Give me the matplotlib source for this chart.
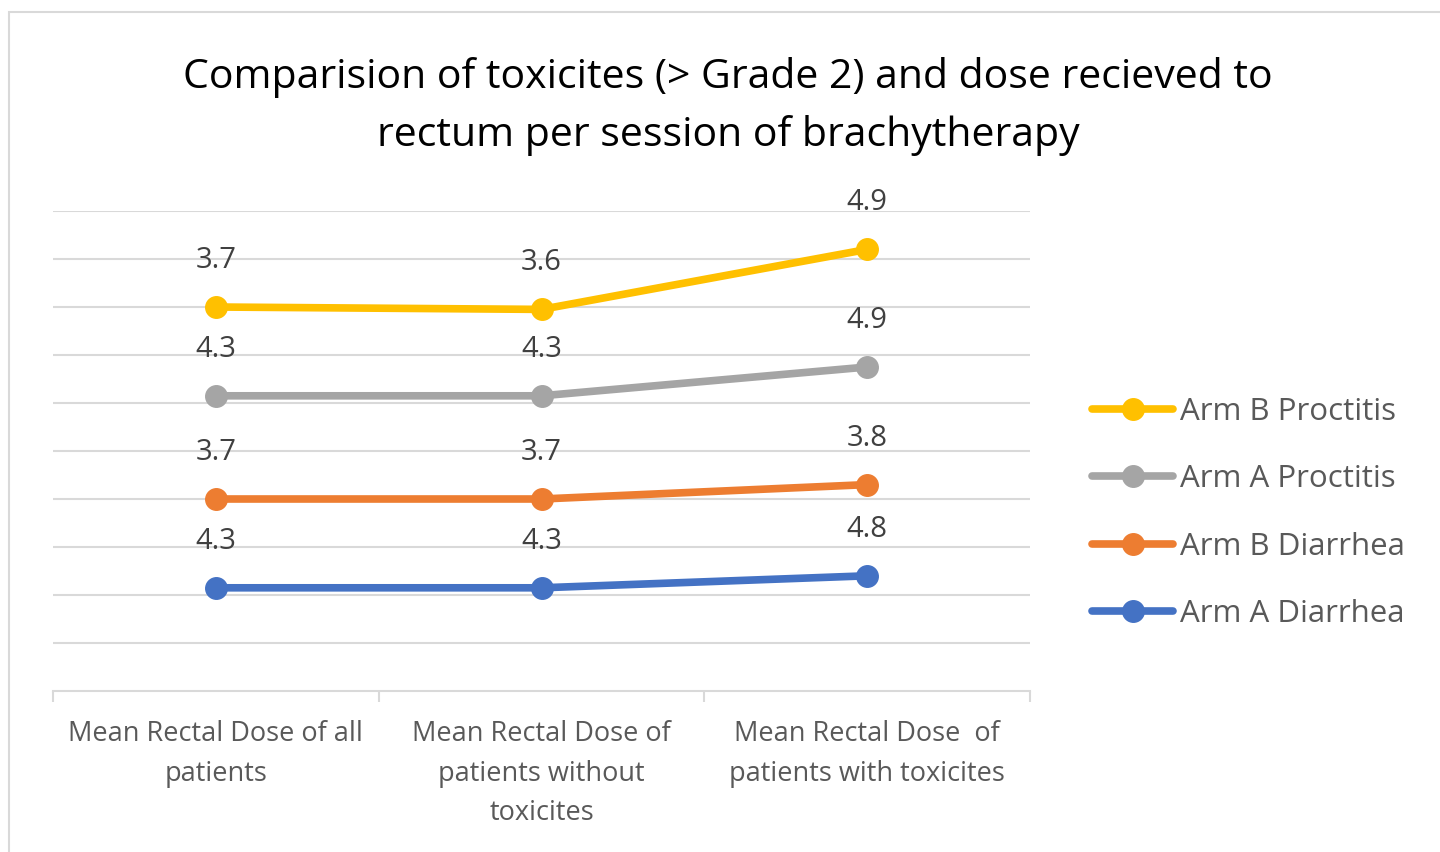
import numpy as np
import matplotlib
matplotlib.use('Agg')
import matplotlib.pyplot as plt
from matplotlib.patches import Rectangle

plt.rcParams['font.family'] = ['Open Sans', 'DejaVu Sans']

categories = ['Mean Rectal Dose of all\npatients',
              'Mean Rectal Dose of\npatients without\ntoxicites',
              'Mean Rectal Dose  of\npatients with toxicites']
# series in stacking order (bottom first)
series_names = ['Arm A Diarrhea', 'Arm B Diarrhea', 'Arm A Proctitis', 'Arm B Proctitis']
arm_a_diarrhea = [4.3, 4.3, 4.8]
arm_b_diarrhea = [3.7, 3.7, 3.8]
arm_a_proctitis = [4.3, 4.3, 4.9]
arm_b_proctitis = [3.7, 3.6, 4.9]
colors = ['#4472C4', '#ED7D31', '#A5A5A5', '#FFC000']

values = [arm_a_diarrhea, arm_b_diarrhea, arm_a_proctitis, arm_b_proctitis]

fig = plt.figure(figsize=(14.4, 8.52), dpi=100)
fig.patches.append(Rectangle((9/1440, -0.1), 2.0, (852-12)/852 + 0.1,
                             transform=fig.transFigure, fill=False,
                             edgecolor='#D9D9D9', lw=1.5))

ax = fig.add_axes([53/1440, (852-691)/852, (1030-53)/1440, (691-211)/852])
x = np.arange(len(categories))
cum = np.zeros(len(categories))
handles = []
for name, v, c in zip(series_names, values, colors):
    cum = cum + np.array(v)
    h, = ax.plot(x, cum, color=c, lw=5.5, marker='o', ms=15.5,
                 solid_capstyle='round', label=name, zorder=3)
    handles.append(h)
    for xi, yi, vi in zip(x, cum, v):
        ax.annotate(f'{vi:.1f}', (xi, yi), xytext=(0, 33.5), textcoords='offset points',
                    ha='center', va='center', fontsize=21, color='#404040')

ax.set_xlim(-0.5, 2.5)
ax.set_ylim(0, 20)
ax.set_yticks(np.arange(2, 21, 2))
ax.yaxis.grid(True, color='#D9D9D9', lw=1.5)
ax.set_axisbelow(True)
ax.tick_params(axis='y', length=0, labelleft=False)
for s in ['top', 'right', 'left']:
    ax.spines[s].set_visible(False)
ax.spines['bottom'].set_color('#D9D9D9')
ax.spines['bottom'].set_linewidth(1.5)
ax.set_xticks([-0.5, 0.5, 1.5, 2.5])
ax.set_xticklabels([])
ax.tick_params(axis='x', length=8, width=1.5, color='#D9D9D9')
ax.set_xticks(x, minor=True)
ax.set_xticklabels(categories, minor=True, fontsize=19.5, color='#595959', linespacing=1.55)
ax.tick_params(axis='x', which='minor', length=0, pad=21)

fig.text(728/1440, (852-77)/852, 'Comparision of toxicites (> Grade 2) and dose recieved to',
         ha='center', va='center', fontsize=29.5, color='#000000')
fig.text(728/1440, (852-136)/852, 'rectum per session of brachytherapy',
         ha='center', va='center', fontsize=29.5, color='#000000')

leg = fig.legend(handles[::-1], series_names[::-1], loc='center left',
                 bbox_to_anchor=(1064/1440, (852-513)/852), frameon=False,
                 fontsize=22.5, labelcolor='#595959', handlelength=2.6,
                 handletextpad=0.2, labelspacing=1.2)

fig.savefig('out.png', dpi=100)
